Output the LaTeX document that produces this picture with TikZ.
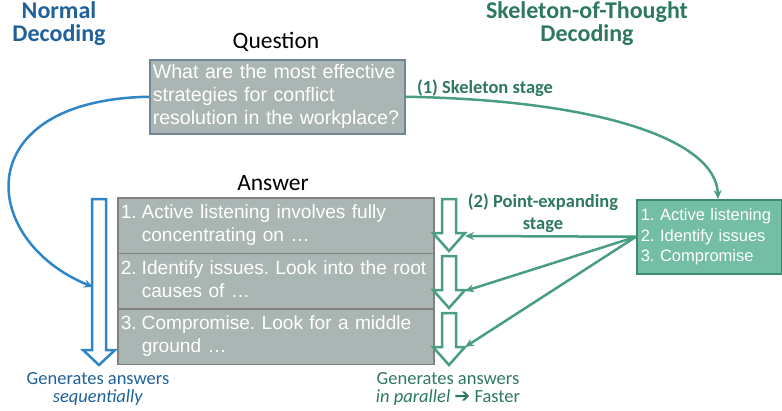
\documentclass[tikz,border=0pt]{standalone}
\usepackage{fontspec}
\usetikzlibrary{arrows.meta}
\setmainfont{Carlito}
\newfontfamily\boxfont{Liberation Sans}
\newfontfamily\dingfont{DejaVu Sans}
\definecolor{NDtext}{RGB}{31,97,153}
\definecolor{NDline}{RGB}{46,134,200}
\definecolor{SoTtext}{RGB}{46,120,98}
\definecolor{SoTline}{RGB}{74,158,128}
\definecolor{BoxGray}{RGB}{170,182,180}
\definecolor{QEdge}{RGB}{112,134,150}
\definecolor{AEdge}{RGB}{128,128,128}
\definecolor{SkFill}{RGB}{115,190,165}
\definecolor{SkEdge}{RGB}{62,140,112}
\tikzset{
  title/.style={font=\fontsize{24}{23}\selectfont\bfseries, align=center},
  heading/.style={font=\fontsize{23.5}{24}\selectfont},
  stagelabel/.style={font=\fontsize{18.5}{22.5}\selectfont\bfseries, text=SoTtext, align=center},
  caption/.style={font=\fontsize{18.5}{18.5}\selectfont, align=center},
  graybox/.style={draw, line width=1.5pt, fill=BoxGray, text=white, anchor=north west,
    align=left, inner xsep=3pt, font=\boxfont\fontsize{19.6}{23}\selectfont},
  ansbox/.style={graybox, draw=AEdge, text width=310pt, minimum height=55.5pt,
    font=\boxfont\fontsize{19.1}{23}\selectfont},
  hollow/.style={line width=2.5pt, line join=miter, fill=white},
  flow/.style={line width=2.5pt, -{Stealth[length=9pt,width=8pt]}},
}
\newcommand\ansline[3]{\begin{tabular}{@{}l@{}l@{}}\makebox[21pt][l]{#1}&#2\\&#3\end{tabular}}

\begin{document}
\frenchspacing
\begin{tikzpicture}[x=1pt,y=-1pt]
  \useasboundingbox (0,0) rectangle (782,410);
  % titles
  \node[title, text=NDtext] (ndtitle) at (59,24) {Normal\\Decoding};
  \node[title, text=SoTtext] (sottitle) at (587,24) {Skeleton-of-Thought\\Decoding};
  \node[heading] (qhead) at (276,42) {Question};
  \node[heading] (ahead) at (273,183) {Answer};
  % question
  \node[graybox, draw=QEdge, text width=249pt, minimum height=74pt] (question) at (149,59)
    {What are the most effective\\strategies for conflict\\resolution in the workplace?};
  % answer rows
  \node[ansbox] (ans1) at (117,197)
    {\ansline{1.}{Active listening involves fully}{concentrating on …}};
  \node[ansbox] (ans2) at (117,252.5)
    {\ansline{2.}{Identify issues. Look into the root}{causes of …}};
  \node[ansbox] (ans3) at (117,308)
    {\ansline{3.}{Compromise. Look for a middle}{ground …}};
  % skeleton
  \node[draw=SkEdge, line width=1.5pt, fill=SkFill, text=white, anchor=north west, align=left,
    inner xsep=4pt, text width=137pt, minimum height=74pt, font=\boxfont\fontsize{16.5}{20.5}\selectfont]
    (skeleton) at (636,199) {1. Active listening\\2. Identify issues\\3. Compromise};
  % hollow arrows
  \draw[hollow, draw=NDline] (92,199) -- (92,350) -- (83,350) -- (99,365) -- (115,350) -- (106,350) -- (106,199) -- cycle;
  \foreach \t in {199,256,313}
    \draw[hollow, draw=SoTline] (442,\t) -- (442,\t+34) -- (433,\t+34) -- (449,\t+52) -- (465,\t+34) -- (456,\t+34) -- (456,\t) -- cycle;
  \coordinate (seqin) at (93,287);
  \coordinate (par1) at (465,236);
  \coordinate (par2) at (465,291);
  \coordinate (par3) at (465,347);
  % connectors
  \draw[flow, NDline] (question.west) .. controls (-32,100) and (-22,240) .. (seqin);
  \draw[flow, SoTline] (question.east) .. controls (600,100) and (716,140) .. (skeleton.north -| 718,0);
  \foreach \p in {par1,par2,par3}
    \draw[flow, SoTline] (skeleton.west) -- (\p);
  \node[stagelabel] (stage1) at (485,88) {(1) Skeleton stage};
  \node[stagelabel] (stage2) at (543,213) {(2) Point-expanding\\stage};
  % captions
  \node[caption, text=NDtext] (seqcap) at (98,389) {Generates answers\\\textit{sequentially}};
  \node[caption, text=SoTtext] (parcap) at (448,389)
    {Generates answers\\\textit{in parallel} {\dingfont\fontsize{19}{15}\selectfont ➔} Faster};
\end{tikzpicture}
\end{document}
